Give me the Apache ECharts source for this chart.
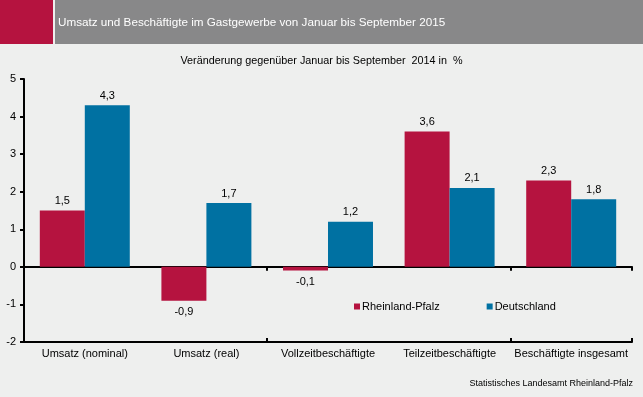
<!DOCTYPE html>
<html>
<head>
<meta charset="utf-8">
<script src="https://cdn.jsdelivr.net/npm/echarts@6/dist/echarts.min.js"></script>
<style>
  html, body { margin: 0; padding: 0; background: #eeefee; }
  #chart { width: 643px; height: 397px; }
</style>
</head>
<body>
<div id="chart"></div>
<script>
// Daten
var categories = ['Umsatz (nominal)', 'Umsatz (real)', 'Vollzeitbeschäftigte', 'Teilzeitbeschäftigte', 'Beschäftigte insgesamt'];
var rlp = [1.5, -0.9, -0.1, 3.6, 2.3];
var de = [4.3, 1.7, 1.2, 2.1, 1.8];
var yTicks = [-2, -1, 0, 1, 2, 3, 4, 5];

var RED = '#b5133f';
var BLUE = '#0071a2';
var FONT = 'Liberation Sans';

var chart = echarts.init(document.getElementById('chart'));

function fmt(p) {
    return String(p.value).replace('.', ',');
}

function labelFor(v) {
    return {
        show: true,
        position: v < 0 ? 'bottom' : 'top',
        distance: v < 0 ? 6 : 4,
        color: '#000',
        fontFamily: FONT,
        fontSize: 11,
        formatter: fmt
    };
}

chart.setOption({
    backgroundColor: '#eeefee',
    animation: false,
    graphic: [
        { type: 'rect', shape: { x: 0, y: 0, width: 53, height: 44 }, style: { fill: '#b5133f' } },
        { type: 'rect', shape: { x: 55, y: 0, width: 588, height: 44 }, style: { fill: '#888889' } },
        { type: 'text', left: 58, top: 17, style: { text: 'Umsatz und Beschäftigte im Gastgewerbe von Januar bis September 2015', fill: '#fff', font: '11.7px "Liberation Sans"' } },
        { type: 'text', left: 'center', top: 56, style: { text: 'Veränderung gegenüber Januar bis September  2014 in  %', fill: '#000', font: '10.8px "Liberation Sans"' } },
        { type: 'text', right: 10, top: 379, style: { text: 'Statistisches Landesamt Rheinland-Pfalz', fill: '#000', font: '9px "Liberation Sans"' } }
    ],
    legend: {
        left: 349,
        top: 296,
        itemWidth: 6,
        itemHeight: 6,
        itemGap: 47,
        icon: 'rect',
        textStyle: { fontFamily: FONT, fontSize: 11, color: '#000', padding: [0, 0, 0, -3] },
        data: ['Rheinland-Pfalz', 'Deutschland']
    },
    grid: { left: 24, right: 11, top: 79, bottom: 55 },
    xAxis: [{
        type: 'category',
        data: categories,
        axisLine: { onZero: true, lineStyle: { color: '#000', width: 2 } },
        axisTick: { show: true, length: 4, lineStyle: { color: '#000', width: 2 } },
        axisLabel: { show: false }
    }, {
        type: 'category',
        data: categories,
        position: 'bottom',
        axisLine: { onZero: true, lineStyle: { color: '#000', width: 2 } },
        axisTick: { show: true, inside: true, length: 4, lineStyle: { color: '#000', width: 2 } },
        axisLabel: { show: false }
    }, {
        type: 'category',
        data: categories,
        position: 'bottom',
        axisLine: { show: false, onZero: false },
        axisTick: { show: false },
        axisLabel: { interval: 0, color: '#000', fontFamily: FONT, fontSize: 11, margin: 6 }
    }],
    yAxis: {
        type: 'value',
        min: yTicks[0],
        max: yTicks[yTicks.length - 1],
        interval: 1,
        axisLine: { show: true, lineStyle: { color: '#000', width: 2 } },
        axisTick: { show: true, length: 4, lineStyle: { color: '#000', width: 2 } },
        axisLabel: { color: '#000', fontFamily: FONT, fontSize: 11, margin: 8 },
        splitLine: { show: false }
    },
    series: [{
        name: 'Rheinland-Pfalz',
        type: 'bar',
        barCategoryGap: '26%',
        barGap: '0%',
        itemStyle: { color: RED },
        data: rlp.map(function (v) { return { value: v, label: labelFor(v) }; })
    }, {
        name: 'Deutschland',
        type: 'bar',
        barCategoryGap: '26%',
        barGap: '0%',
        itemStyle: { color: BLUE },
        data: de.map(function (v) { return { value: v, label: labelFor(v) }; })
    }]
});
</script>
</body>
</html>
